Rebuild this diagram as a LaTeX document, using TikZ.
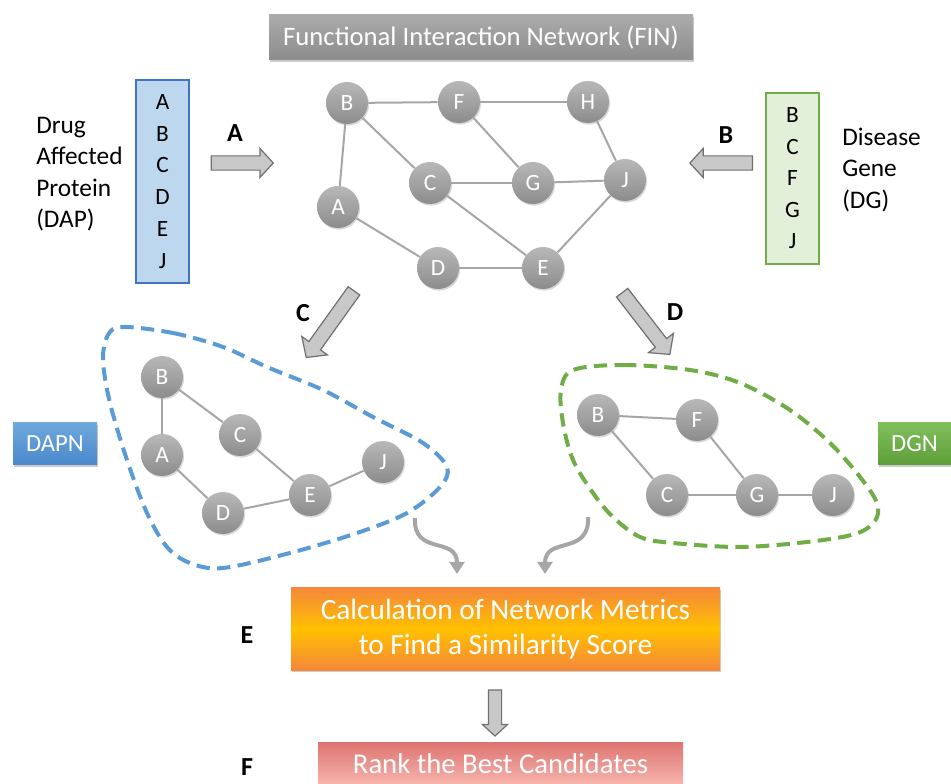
\documentclass[tikz,border=0pt]{standalone}
\usepackage{fontspec}
\setmainfont{Carlito}
\usetikzlibrary{shapes.arrows,shadows,arrows.meta}
\definecolor{edgegray}{HTML}{A6A6A6}
\definecolor{nodetop}{HTML}{B8B8B8}
\definecolor{nodebot}{HTML}{8C8C8C}
\definecolor{arrfill}{HTML}{C8C8C8}
\definecolor{arrborder}{HTML}{707070}
\definecolor{dapfill}{HTML}{BDD7EE}
\definecolor{dapborder}{HTML}{4472C4}
\definecolor{dgfill}{HTML}{E2EFD9}
\definecolor{dgborder}{HTML}{70AD47}
\definecolor{blobblue}{HTML}{5B9BD5}
\definecolor{blobgreen}{HTML}{70AD47}
\definecolor{fintop}{HTML}{ABABAB}
\definecolor{finbot}{HTML}{8C8C8C}
\definecolor{calcorange}{HTML}{F5883A}
\definecolor{calcgold}{HTML}{FFC000}
\definecolor{ranktop}{HTML}{DE7573}
\definecolor{rankbot}{HTML}{F7B4AB}
\definecolor{dapntop}{HTML}{6FA8DC}
\definecolor{dapnbot}{HTML}{4A88CC}
\definecolor{dgntop}{HTML}{80BF5C}
\definecolor{dgnbot}{HTML}{5E9E38}
\tikzset{
  gnode/.style={circle, minimum size=31.5pt, inner sep=0pt, top color=nodetop, bottom color=nodebot,
    text=white, font=\fontsize{17.5}{20}\selectfont,
    drop shadow={opacity=0.3, shadow xshift=0.8pt, shadow yshift=-1.2pt}},
  gedge/.style={draw=edgegray, line width=1.5pt},
  barrow/.style={single arrow, draw=arrborder, fill=arrfill, line width=0.9pt, inner sep=4.9pt,
    single arrow head extend=5.5pt, single arrow tip angle=95},
  steplabel/.style={font=\fontsize{19.5}{22}\selectfont\bfseries, inner sep=0pt},
  sidetext/.style={font=\fontsize{19}{23.5}\selectfont, align=left, inner sep=0pt, anchor=west},
  blob/.style={line width=3pt, dash pattern=on 10pt off 5.5pt, line cap=butt},
  curvearr/.style={draw=edgegray, line width=3pt, -{Triangle[length=9pt,width=11pt]}},
  shadowbox/.style={drop shadow={opacity=0.4, shadow xshift=1pt, shadow yshift=-1.5pt}},
}
\begin{document}
\begin{tikzpicture}[x=0.75pt,y=-0.75pt]
\clip (0,0) rectangle (951,784);
\fill[white] (0,0) rectangle (951,784);

% title
\node[shadowbox, top color=fintop, bottom color=finbot, minimum width=318pt, minimum height=33.75pt,
  text=white, font=\fontsize{20}{22}\selectfont] (fin) at (481,37.5) {Functional Interaction Network (FIN)};

% FIN network
\node[gnode] (B) at (347,103) {B};
\node[gnode] (F) at (459,102) {F};
\node[gnode] (H) at (588,102) {H};
\node[gnode] (C) at (430,183) {C};
\node[gnode] (G) at (533,183) {G};
\node[gnode] (J) at (625,180) {J};
\node[gnode] (A) at (338,207) {A};
\node[gnode] (D) at (438,268) {D};
\node[gnode] (E) at (543,268) {E};
\draw[gedge] (B) -- (F);
\draw[gedge] (F) -- (H);
\draw[gedge] (B) -- (A);
\draw[gedge] (B) -- (C);
\draw[gedge] (F) -- (G);
\draw[gedge] (H) -- (J);
\draw[gedge] (C) -- (G);
\draw[gedge] (G) -- (J);
\draw[gedge] (A) -- (D);
\draw[gedge] (C) -- (E);
\draw[gedge] (D) -- (E);
\draw[gedge] (J) -- (E);

% DAP list
\node[sidetext] (daptext) at (36,174) {Drug\\Affected\\Protein\\(DAP)};
\node[draw=dapborder, fill=dapfill, line width=1pt, minimum width=39.75pt, minimum height=152.25pt,
  align=center, inner sep=0pt, font=\fontsize{17.5}{23.9}\selectfont] (dap) at (162.5,181.5) {A\\B\\C\\D\\E\\J};
\node[steplabel] (lA) at (235,133) {A};
\node[barrow, minimum height=46.5pt] (arrA) at (239,163) {};

% DG list
\node[sidetext] (dgtext) at (842,170) {Disease\\Gene\\(DG)};
\node[draw=dgborder, fill=dgfill, line width=1pt, minimum width=39.75pt, minimum height=128.25pt,
  align=center, inner sep=0pt, font=\fontsize{17.5}{23.6}\selectfont] (dg) at (792.5,178.5) {B\\C\\F\\G\\J};
\node[steplabel] (lB) at (726,135) {B};
\node[barrow, minimum height=47pt, rotate=180] (arrB) at (724.5,163) {};

% C / D arrows
\node[steplabel] (lC) at (303,313) {C};
\node[barrow, minimum height=61.5pt, rotate=234.4, single arrow head extend=6.5pt] (arrC) at (332,321.5) {};
\node[steplabel] (lD) at (675,312) {D};
\node[barrow, minimum height=58.5pt, rotate=-52.3, single arrow head extend=6.5pt] (arrD) at (644,321) {};

% DAPN
\draw[blob, draw=blobblue] plot[smooth cycle, tension=0.55] coordinates {
 (123,327) (173,333) (223,347) (267,367) (323,390) (373,417) (423,443) (447,467) (440,487)
 (407,513) (357,533) (290,553) (223,568) (190,563) (167,547) (147,513) (127,460) (110,403) (103,360) (108,335)};
\node[gnode] (nB) at (162,377) {B};
\node[gnode] (nC) at (240,435) {C};
\node[gnode] (nA) at (162,455) {A};
\node[gnode] (nJ) at (383,462) {J};
\node[gnode] (nE) at (310,495) {E};
\node[gnode] (nD) at (223,513) {D};
\draw[gedge] (nB) -- (nA);
\draw[gedge] (nB) -- (nC);
\draw[gedge] (nA) -- (nD);
\draw[gedge] (nC) -- (nE);
\draw[gedge] (nD) -- (nE);
\draw[gedge] (nE) -- (nJ);
\node[shadowbox, top color=dapntop, bottom color=dapnbot, minimum width=63pt, minimum height=31.5pt,
  text=white, font=\fontsize{18.5}{22}\selectfont, inner sep=0pt] (dapn) at (55,444) {DAPN};

% DGN
\draw[blob, draw=blobgreen] plot[smooth cycle, tension=0.55] coordinates {
 (573,370) (623,365) (690,370) (740,383) (790,410) (830,443) (860,477) (877,503) (875,521)
 (855,534) (807,542) (740,547) (673,543) (640,537) (613,517) (593,493) (573,460) (563,423) (561,390)};
\node[gnode] (mB) at (598,415) {B};
\node[gnode] (mF) at (697,420) {F};
\node[gnode] (mC) at (667,495) {C};
\node[gnode] (mG) at (757,495) {G};
\node[gnode] (mJ) at (833,495) {J};
\draw[gedge] (mB) -- (mF);
\draw[gedge] (mB) -- (mC);
\draw[gedge] (mF) -- (mG);
\draw[gedge] (mC) -- (mG);
\draw[gedge] (mG) -- (mJ);
\node[shadowbox, top color=dgntop, bottom color=dgnbot, minimum width=54.75pt, minimum height=31.5pt,
  text=white, font=\fontsize{18.5}{22}\selectfont, inner sep=0pt] (dgn) at (914.5,444) {DGN};

% curved arrows
\coordinate (c1s) at (415,518);
\coordinate (c1e) at (457,574);
\coordinate (c2s) at (588,517);
\coordinate (c2e) at (545,574);
\draw[curvearr] (c1s) .. controls (413,556) and (457,536) .. (c1e);
\draw[curvearr] (c2s) .. controls (590,556) and (545,536) .. (c2e);

% calculation box
\node[shadowbox, top color=calcorange, bottom color=calcorange, middle color=calcgold,
  minimum width=321.75pt, minimum height=61.5pt, text=white, align=center,
  font=\fontsize{22}{26}\selectfont] (calc) at (505.5,629) {Calculation of Network Metrics\\to Find a Similarity Score};
\node[steplabel] (lE) at (247,635) {E};
\node[barrow, minimum height=34.5pt, rotate=-90, inner sep=4.5pt, single arrow head extend=4.5pt] (arrF) at (495,710) {};

% rank box
\node[top color=ranktop, bottom color=rankbot, minimum width=273.75pt, minimum height=31pt,
  text=white, font=\fontsize{21.5}{24}\selectfont, inner sep=0pt] (rank) at (500.5,763.5) {Rank the Best Candidates};
\node[steplabel] (lF) at (247,767) {F};
\end{tikzpicture}
\end{document}
